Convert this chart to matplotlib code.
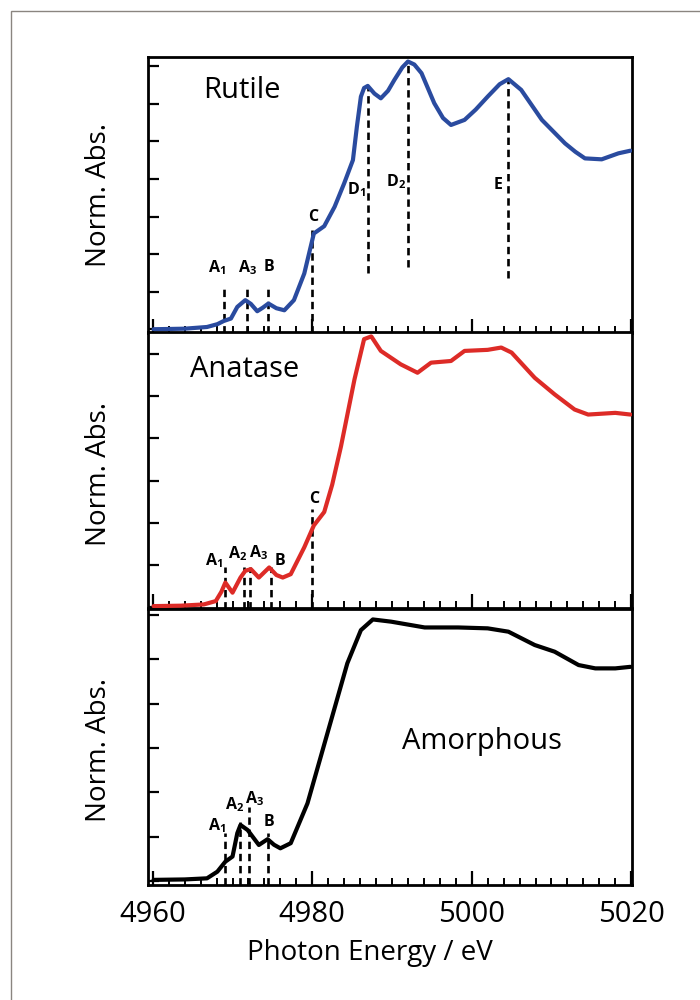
import matplotlib
matplotlib.use("Agg")
import matplotlib.pyplot as plt
import numpy as np
from matplotlib.ticker import MultipleLocator
from matplotlib.patches import Rectangle

plt.rcParams['font.family'] = ['Open Sans', 'DejaVu Sans']
plt.rcParams['mathtext.fontset'] = 'custom'
plt.rcParams['mathtext.rm'] = 'Open Sans'
plt.rcParams['mathtext.bf'] = 'Open Sans:bold'

# ---- spectra (energy in eV, normalised absorption) ----
rutile_e = [4960.1, 4964.0, 4966.8, 4968.1, 4968.9, 4969.8, 4970.6, 4971.6, 4972.3,
            4973.1, 4973.8, 4974.5, 4975.5, 4976.5, 4977.7, 4979.0, 4980.2, 4981.5,
            4982.8, 4984.0, 4985.1, 4985.6, 4986.1, 4986.5, 4986.96, 4987.8, 4988.6,
            4989.5, 4990.3, 4991.3, 4992.0, 4992.8, 4993.7, 4995.3, 4996.4, 4997.4,
            4999.1, 5000.5, 5002.0, 5003.5, 5004.6, 5006.2, 5008.8, 5011.7, 5013.0,
            5014.2, 5016.3, 5018.4, 5019.9]
rutile_y = [0.0, 0.003, 0.012, 0.027, 0.044, 0.057, 0.119, 0.155, 0.135,
            0.096, 0.115, 0.137, 0.112, 0.101, 0.155, 0.297, 0.51, 0.549,
            0.652, 0.777, 0.901, 1.08, 1.239, 1.285, 1.296, 1.255, 1.23,
            1.27, 1.328, 1.395, 1.426, 1.41, 1.364, 1.204, 1.125, 1.088,
            1.115, 1.17, 1.239, 1.305, 1.332, 1.275, 1.115, 0.99, 0.945,
            0.91, 0.905, 0.937, 0.951]

anatase_e = [4960.1, 4963.5, 4966.4, 4967.9, 4968.6, 4969.1, 4970.0, 4971.0, 4971.6,
             4972.3, 4973.3, 4974.6, 4975.5, 4976.3, 4977.3, 4979.0, 4980.2, 4981.5,
             4982.5, 4983.6, 4985.3, 4986.5, 4987.4, 4988.6, 4991.1, 4993.2, 4994.9,
             4997.4, 4999.1, 5002.0, 5003.7, 5005.0, 5007.9, 5010.4, 5012.9, 5014.6,
             5018.0, 5019.9]
anatase_y = [0.002, 0.004, 0.01, 0.026, 0.07, 0.114, 0.066, 0.138, 0.17,
             0.178, 0.138, 0.186, 0.15, 0.138, 0.154, 0.282, 0.386, 0.45,
             0.58, 0.762, 1.082, 1.273, 1.286, 1.217, 1.153, 1.113, 1.161,
             1.169, 1.217, 1.222, 1.233, 1.209, 1.089, 1.01, 0.938, 0.914,
             0.922, 0.914]

amorph_e = [4960.1, 4964.0, 4966.8, 4968.1, 4969.1, 4970.0, 4970.6, 4971.0, 4971.9,
            4973.3, 4974.4, 4975.2, 4976.0, 4977.3, 4979.4, 4981.9, 4984.4, 4986.1,
            4987.6, 4989.9, 4994.1, 4998.3, 5002.0, 5004.6, 5007.9, 5010.4, 5013.4,
            5015.5, 5018.0, 5019.9]
amorph_y = [0.007, 0.009, 0.014, 0.044, 0.089, 0.112, 0.217, 0.254, 0.231,
            0.164, 0.19, 0.165, 0.149, 0.172, 0.351, 0.666, 0.981, 1.13,
            1.178, 1.168, 1.142, 1.142, 1.138, 1.123, 1.063, 1.033, 0.973,
            0.958, 0.958, 0.965]

# ---- pre-edge / edge feature markers ----
rutile_marks = ['A$_\\mathbf{1}$', 'A$_\\mathbf{3}$', 'B', 'C', 'D$_\\mathbf{1}$', 'D$_\\mathbf{2}$', 'E']
rutile_mark_e = [4968.9, 4971.8, 4974.5, 4980.0, 4987.0, 4992.0, 5004.6]
rutile_mark_lo = [-0.02, -0.02, -0.02, -0.02, 0.299, 0.332, 0.272]
rutile_mark_hi = [0.224, 0.224, 0.224, 0.528, 1.296, 1.426, 1.332]
rutile_lab_e = [4968.1, 4971.9, 4974.6, 4980.1, 4985.5, 4990.5, 5003.3]
rutile_lab_y = [0.33, 0.33, 0.33, 0.597, 0.741, 0.784, 0.768]

anatase_marks = ['A$_\\mathbf{1}$', 'A$_\\mathbf{2}$', 'A$_\\mathbf{3}$', 'B', 'C']
anatase_mark_e = [4969.1, 4971.4, 4972.2, 4974.8, 4980.0]
anatase_mark_lo = [-0.01, -0.01, -0.01, -0.01, -0.01]
anatase_mark_hi = [0.186, 0.186, 0.186, 0.186, 0.466]
anatase_lab_e = [4967.7, 4970.6, 4973.2, 4976.0, 4980.2]
anatase_lab_y = [0.218, 0.25, 0.258, 0.218, 0.514]

amorph_marks = ['A$_\\mathbf{1}$', 'A$_\\mathbf{2}$', 'A$_\\mathbf{3}$', 'B']
amorph_mark_e = [4969.1, 4970.9, 4972.1, 4974.4]
amorph_mark_lo = [-0.016, -0.016, -0.016, -0.016]
amorph_mark_hi = [0.217, 0.269, 0.336, 0.217]
amorph_lab_e = [4968.0, 4970.2, 4972.7, 4974.6]
amorph_lab_y = [0.249, 0.344, 0.374, 0.269]

x_ticks = [4960, 4980, 5000, 5020]

fig = plt.figure(figsize=(7, 10), dpi=100)

# grey outer frame (only top/left visible in the original crop)
fig.patches.append(Rectangle((11 / 700, -0.1), 1.2, 1.1 - 11 / 1000,
                             transform=fig.transFigure, fill=False,
                             edgecolor='#8a8580', lw=1.0))

left, width = 148 / 700, 484 / 700
h = 276 / 1000
bottoms = [1 - 333 / 1000, 1 - 608 / 1000, 1 - 885 / 1000]


def panel(ax, e, y, color, ylim, yticks, marks, me, mlo, mhi, le, ly):
    ax.plot(e, y, color=color, lw=3.0, solid_joinstyle='round', solid_capstyle='round', zorder=3)
    ax.vlines(me, mlo, mhi, colors='black', linestyles=(0, (2.8, 1.8)), lw=1.9, zorder=2)
    for lab, xe, ye in zip(marks, le, ly):
        ax.text(xe, ye, lab, fontsize=11.5, fontweight='bold', ha='center', va='center',
                zorder=4)
    ax.set_xlim(4959.4, 5020.1)
    ax.set_ylim(*ylim)
    ax.set_yticks(yticks)
    ax.set_yticklabels([])
    ax.set_xticks(x_ticks)
    ax.xaxis.set_minor_locator(MultipleLocator(2))
    ax.tick_params(axis='y', direction='in', length=8, width=1.6, left=True, right=False)
    ax.tick_params(axis='x', which='major', direction='in', length=10, width=1.6,
                   top=False, labelsize=21, pad=11)
    ax.tick_params(axis='x', which='minor', direction='in', length=5, width=1.4, top=False)
    for s in ax.spines.values():
        s.set_linewidth(2.0)
    ax.set_ylabel('Norm. Abs.', fontsize=20)


ax1 = fig.add_axes([left, bottoms[0], width, h])
panel(ax1, rutile_e, rutile_y, '#2a4b9f', (-0.02, 1.45), np.arange(0, 1.41, 0.2),
      rutile_marks, rutile_mark_e, rutile_mark_lo, rutile_mark_hi, rutile_lab_e, rutile_lab_y)
ax1.set_xticklabels([])
ax1.text(0.194, 0.88, 'Rutile', transform=ax1.transAxes, fontsize=21, ha='center', va='center')
ax1.yaxis.set_label_coords(-0.072, 0.5)

ax2 = fig.add_axes([left, bottoms[1], width, h])
panel(ax2, anatase_e, anatase_y, '#dd2b27', (-0.007, 1.307), np.arange(0, 1.21, 0.2),
      anatase_marks, anatase_mark_e, anatase_mark_lo, anatase_mark_hi, anatase_lab_e, anatase_lab_y)
ax2.set_xticklabels([])
ax2.text(0.2, 0.865, 'Anatase', transform=ax2.transAxes, fontsize=21, ha='center', va='center')
ax2.yaxis.set_label_coords(-0.072, 0.484)

ax3 = fig.add_axes([left, bottoms[2], width, h])
panel(ax3, amorph_e, amorph_y, 'black', (-0.016, 1.225), np.arange(0, 1.21, 0.2),
      amorph_marks, amorph_mark_e, amorph_mark_lo, amorph_mark_hi, amorph_lab_e, amorph_lab_y)
ax3.set_xticklabels([str(t) for t in x_ticks])
ax3.text(0.689, 0.519, 'Amorphous', transform=ax3.transAxes, fontsize=21, ha='center', va='center')
ax3.yaxis.set_label_coords(-0.072, 0.489)
ax3.set_xlabel('Photon Energy / eV', fontsize=20)
ax3.xaxis.set_label_coords(0.459, -0.195)

fig.savefig('out.png', dpi=100)
